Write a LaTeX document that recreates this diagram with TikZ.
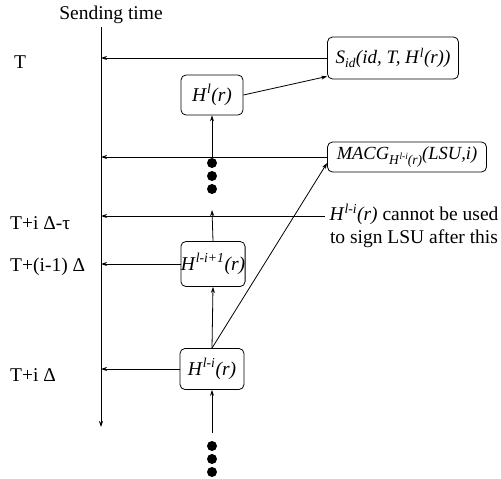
\documentclass[tikz,border=0pt]{standalone}
\usepackage{fontspec}
\setmainfont{Liberation Serif}
\usetikzlibrary{arrows.meta}
\tikzset{
  hbox/.style={draw, rounded corners=5pt, line width=0.8pt, inner sep=0pt, align=center},
  conn/.style={line width=0.8pt, -{Stealth[length=6pt,width=4pt]}},
  bigdot/.style={circle, fill=black, inner sep=0pt, minimum size=10pt},
  lbl/.style={anchor=west, inner sep=0pt}
}
\newcommand{\Hsup}[1]{\textit{H}\textsuperscript{\textit{#1}}\textit{(r)}}
\begin{document}
\begin{tikzpicture}[x=1pt,y=-1pt,font=\rmfamily\fontsize{19.5}{23}\selectfont]
\useasboundingbox (0,0) rectangle (501,479);
% title and axis
\node (title) at (111,15) {Sending time};
\coordinate (top) at (101,27);
\coordinate (bot) at (101,427);
\draw[conn] (top) -- (bot);
% time labels
\node[lbl] (lT) at (14,62) {T};
\node[lbl] (lTau) at (10,223) {T+i Δ-τ};
\node[lbl] (lTm) at (10,267) {T+(i-1) Δ};
\node[lbl] (lTi) at (10,375) {T+i Δ};
% boxes
\node[hbox, minimum width=131pt, minimum height=42pt, font=\rmfamily\fontsize{19}{23}\selectfont] (sid) at (393,58)
  {\textit{S}\textsubscript{\textit{id}}\textit{(id, T, }\Hsup{l}\textit{)}};
\node[hbox, minimum width=62pt, minimum height=40pt] (h1) at (212,95) {\Hsup{l}};
\node[hbox, minimum width=159pt, minimum height=30pt, font=\rmfamily\fontsize{18.5}{22}\selectfont] (mac) at (407,157)
  {\textit{MACG}\raisebox{-0.7ex}{\fontsize{13.5}{15}\selectfont\textit{H}\raisebox{0.8ex}{\fontsize{9.5}{11}\selectfont\textit{l-i}}\textit{(r)}}\textit{(LSU,i)}};
\node[hbox, minimum width=64pt, minimum height=45pt] (h2) at (213,264)
  {\textit{H}\textsuperscript{\textit{l-i+1}}\textit{(r)}};
\node[hbox, minimum width=64pt, minimum height=41pt] (h3) at (212,369) {\Hsup{l-i}};
% dots
\node[bigdot] (d1) at (212,163) {};
\node[bigdot] (d2) at (212,176) {};
\node[bigdot] (d3) at (212,189) {};
\node[bigdot] (e1) at (212,446) {};
\node[bigdot] (e2) at (212,459) {};
\node[bigdot] (e3) at (212,472) {};
% note
\node[align=center, inner sep=0pt] (note) at (414,226)
  {\Hsup{l-i} cannot be used\\to sign LSU after this};
\coordinate (cut) at (325,216);
\coordinate (up) at (212,210);
\coordinate (low) at (212,433);
% connectors
\draw[conn] (sid.west) -- (sid.west -| top);
\draw[conn] (h1.east) -- ([yshift=3pt]sid.south west);
\draw[conn] (d1.north) -- (h1.south);
\draw[conn] (mac.west) -- (mac.west -| top);
\draw[conn] (cut) -- (cut -| top);
\draw[conn] (h2.north) -- (up);
\draw[conn] (h2.west) -- (h2.west -| top);
\draw[conn] (h3.north) -- (h2.south);
\draw[conn] (h3.north) -- ([yshift=-6pt]mac.west);
\draw[conn] (h3.west) -- (h3.west -| top);
\draw[conn] (low) -- (h3.south);
\end{tikzpicture}
\end{document}
